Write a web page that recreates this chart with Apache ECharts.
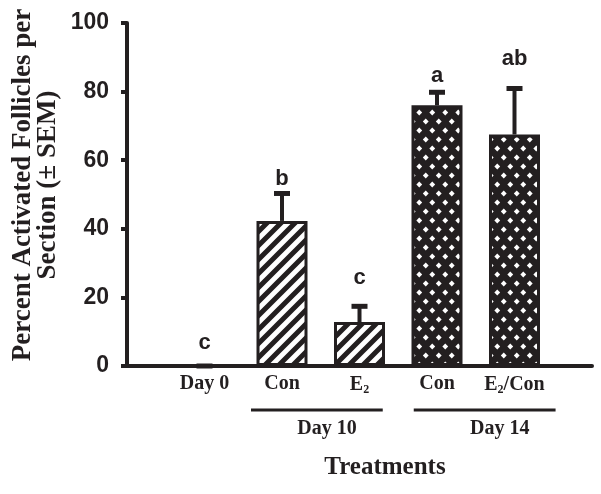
<!DOCTYPE html>
<html>
<head>
<meta charset="utf-8">
<script src="https://cdn.jsdelivr.net/npm/echarts@6/dist/echarts.min.js"></script>
<style>html,body{margin:0;padding:0;background:#fff}#c{width:601px;height:494px}</style>
</head>
<body>
<div id="c"></div>
<script>
// ---- data ----
const categories = ['Day 0', 'Con', 'E₂', 'Con', 'E₂/Con'];
const groups = ['Day 0', 'Day 10', 'Day 10', 'Day 14', 'Day 14'];
const means = [0, 42.3, 12.8, 76.0, 67.5];
const sems = [0, 8.0, 4.6, 3.8, 13.4];
const letters = ['c', 'b', 'c', 'a', 'ab'];
const letterY = [6.7, 54.5, 25.7, 84.5, 89.5];
const yTicks = [0, 20, 40, 60, 80, 100];
const yTitle = ['Percent Activated Follicles per', 'Section (± SEM)'];
const xTitle = 'Treatments';

const INK = '#231f20';

function hatchPattern() {
  const s = 14, c = document.createElement('canvas');
  c.width = s; c.height = s;
  const g = c.getContext('2d');
  g.fillStyle = '#fff'; g.fillRect(0, 0, s, s);
  g.strokeStyle = INK; g.lineWidth = 5; g.lineCap = 'square';
  g.beginPath();
  g.moveTo(0, s); g.lineTo(s, 0);
  g.moveTo(-2, 2); g.lineTo(2, -2);
  g.moveTo(s - 2, s + 2); g.lineTo(s + 2, s - 2);
  g.stroke();
  return c;
}
function dotPattern() {
  const w = 13, h = 18, c = document.createElement('canvas');
  c.width = w; c.height = h;
  const g = c.getContext('2d');
  g.fillStyle = INK; g.fillRect(0, 0, w, h);
  g.fillStyle = '#fff';
  const d = (cx, cy, r) => { g.beginPath(); g.moveTo(cx, cy - r); g.lineTo(cx + r, cy); g.lineTo(cx, cy + r); g.lineTo(cx - r, cy); g.closePath(); g.fill(); };
  d(3.25, 4.5, 2.9); d(9.75, 13.5, 2.9);
  return c;
}
const fills = {
  'Day 0': 'rgba(0,0,0,0)',
  'Day 10': { image: hatchPattern(), repeat: 'repeat' },
  'Day 14': { image: dotPattern(), repeat: 'repeat' }
};

const xs = categories.map((_, i) => i + 1);
const barData = means.map((m, i) => ({
  value: [xs[i], m],
  itemStyle: { color: fills[groups[i]], borderColor: INK, borderWidth: groups[i] === 'Day 0' ? 0 : 3 }
}));
const errData = means.map((m, i) => [xs[i], m, sems[i]]);
const letterData = letters.map((l, i) => [xs[i], letterY[i], l]);

const chart = echarts.init(document.getElementById('c'), null, { renderer: 'canvas' });
const option = {
  animation: false,
  backgroundColor: '#fff',
  grid: { left: 127, right: 9, top: 23, bottom: 128 },
  xAxis: {
    type: 'value', min: 0, max: 6, interval: 1,
    axisLine: { show: true, onZero: false, lineStyle: { color: INK, width: 4 } },
    axisTick: { show: false },
    splitLine: { show: false },
    axisLabel: {
      margin: 8,
      formatter: v => {
        const i = Math.round(v) - 1;
        if (i < 0 || i >= categories.length) return '';
        return categories[i].replace('₂', '{sub|2}');
      },
      fontFamily: 'Liberation Serif', fontWeight: 'bold', fontSize: 20, color: INK,
      rich: {
        sub: { fontFamily: 'Liberation Serif', fontWeight: 'bold', fontSize: 12, color: INK, padding: [10, 0, 0, 0] }
      }
    }
  },
  yAxis: {
    type: 'value', min: 0, max: 100, interval: 20,
    axisLine: { show: true, lineStyle: { color: INK, width: 4 } },
    axisTick: { show: true, inside: false, length: 6, lineStyle: { color: INK, width: 4 } },
    splitLine: { show: false },
    axisLabel: {
      margin: 18,
      formatter: v => yTicks.includes(v) ? String(v) : '',
      fontFamily: 'Liberation Sans', fontWeight: 'bold', fontSize: 23, color: INK
    }
  },
  series: [
    {
      type: 'bar', data: barData, barWidth: 51, z: 2
    },
    {
      type: 'custom', z: 3, data: errData,
      renderItem: (params, api) => {
        const x = api.value(0), m = api.value(1), e = api.value(2);
        const p0 = api.coord([x, m]);
        const p1 = api.coord([x, m + e]);
        return {
          type: 'group', children: [
            { type: 'line', shape: { x1: p0[0], y1: p0[1], x2: p1[0], y2: p1[1] }, style: { stroke: INK, lineWidth: 4 } },
            { type: 'line', shape: { x1: p1[0] - 8, y1: p1[1], x2: p1[0] + 8, y2: p1[1] }, style: { stroke: INK, lineWidth: 5 } }
          ]
        };
      }
    },
    {
      type: 'custom', z: 4, data: letterData,
      renderItem: (params, api) => {
        const p = api.coord([api.value(0), api.value(1)]);
        return {
          type: 'text', x: p[0], y: p[1],
          style: { text: letters[params.dataIndex], align: 'center', verticalAlign: 'middle',
                   font: 'bold 22px "Liberation Sans"', fill: INK }
        };
      }
    }
  ]
};
chart.setOption(option);

// group brackets under the category labels, positioned through the axis scale
const bracketSpans = [
  { name: 'Day 10', from: 1.6, to: 3.3, labelAt: 2.58 },
  { name: 'Day 14', from: 3.7, to: 5.53, labelAt: 4.81 }
];
const gfx = [];
bracketSpans.forEach(b => {
  const a = chart.convertToPixel({ gridIndex: 0 }, [b.from, 0]);
  const c = chart.convertToPixel({ gridIndex: 0 }, [b.to, 0]);
  const l = chart.convertToPixel({ gridIndex: 0 }, [b.labelAt, 0]);
  gfx.push({ type: 'line', shape: { x1: a[0], y1: a[1] + 44, x2: c[0], y2: c[1] + 44 }, style: { stroke: INK, lineWidth: 3 } });
  gfx.push({ type: 'text', x: l[0], y: l[1] + 63, style: { text: b.name, align: 'center', verticalAlign: 'middle', font: 'bold 20px "Liberation Serif"', fill: INK } });
});
gfx.push({ type: 'text', x: 385, y: 468, style: { text: xTitle, align: 'center', verticalAlign: 'middle', font: 'bold 25px "Liberation Serif"', fill: INK } });
gfx.push({ type: 'text', x: 36, y: 185, rotation: Math.PI / 2,
  style: { text: yTitle.join('\n'), align: 'center', verticalAlign: 'middle', lineHeight: 25, font: 'bold 27px "Liberation Serif"', fill: INK } });
chart.setOption({ graphic: gfx });
</script>
</body>
</html>
